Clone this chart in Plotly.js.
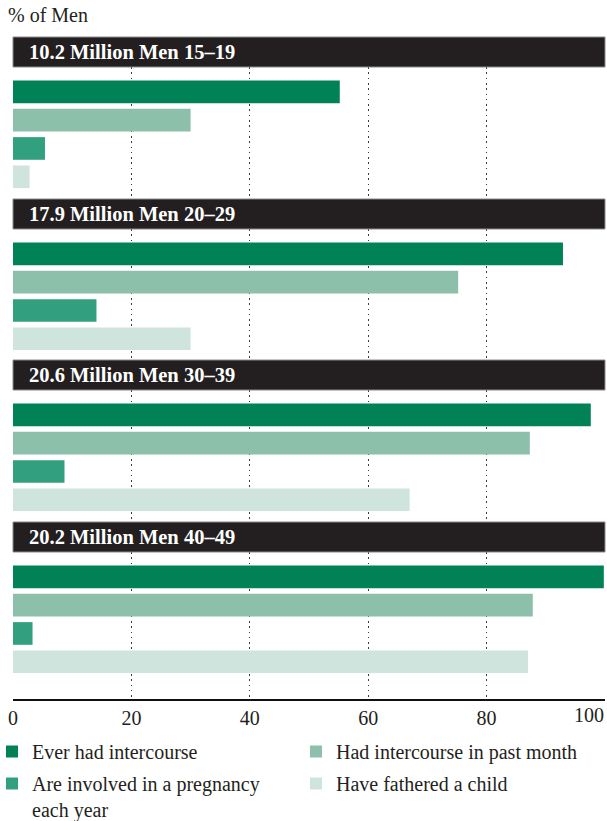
<!DOCTYPE html>
<html>
<head>
<meta charset="utf-8">
<script src="https://cdn.plot.ly/plotly-3.0.1.min.js"></script>
<style>html,body{margin:0;padding:0;background:#fff;}#chart{width:607px;height:821px;}</style>
</head>
<body>
<div id="chart"></div>
<script>
// ---- data ----
const series = ['Ever had intercourse', 'Had intercourse in past month', 'Are involved in a pregnancy each year', 'Have fathered a child'];
const legendNames = ['Ever had intercourse', 'Had intercourse in past month', 'Are involved in a pregnancy<br>each year', 'Have fathered a child'];
const panels = ['10.2 Million Men 15–19', '17.9 Million Men 20–29', '20.6 Million Men 30–39', '20.2 Million Men 40–49'];
const everHad = [55.2, 92.9, 97.6, 99.8];
const pastMonth = [30.0, 75.2, 87.3, 87.8];
const pregnancy = [5.4, 14.1, 8.7, 3.3];
const fathered = [2.8, 30.0, 67.0, 87.0];
const xTicks = [0, 20, 40, 60, 80, 100];
const xTickText = ['0', '20', '40', '60', '80', '100'];
const yTitle = '% of Men';

// ---- styles ----
const colors = ['#008256', '#8cc0aa', '#32a07e', '#cfe4dc'];
const values = [everHad, pastMonth, pregnancy, fathered];
const FONT = '"Liberation Serif", "Times New Roman", serif';
const W = 607, H = 821;
const MT = 37, MB = 122, ML = 13, MR = 2;
const plotBottom = H - MB; // 699
const plotH = H - MT - MB;
const plotW = W - ML - MR;
const py = p => (plotBottom - p) / plotH;
const px = p => (p - ML) / plotW;
const headerTops = [37, 199, 360, 522];
const headerH = 30;
const areaBottoms = [199, 360, 522, 699];
const pitch = 28.33, firstC = 24.8;
// legend placement (pixels): [x, top]
const legendPos = [[-8, 732], [296, 732], [-8, 764], [296, 764]];
const legendKeys = ['legend', 'legend2', 'legend3', 'legend4'];

const traces = [];
const layout = {
  width: W, height: H,
  margin: {l: ML, r: MR, t: MT, b: MB, pad: 0, autoexpand: false},
  paper_bgcolor: '#fff', plot_bgcolor: 'rgba(0,0,0,0)',
  font: {family: FONT, size: 20, color: '#231f20'},
  barmode: 'overlay',
  title: {text: yTitle, x: 8 / W, xref: 'container', xanchor: 'left', y: 1 - 15 / H, yref: 'container', yanchor: 'middle', font: {family: FONT, size: 20, color: '#231f20'}},
  shapes: [], annotations: []
};
legendKeys.forEach((key, i) => {
  layout[key] = {orientation: 'v', xref: 'paper', yref: 'paper',
    x: px(legendPos[i][0]), y: py(legendPos[i][1]), xanchor: 'left', yanchor: 'top',
    bgcolor: 'rgba(0,0,0,0)', font: {family: FONT, size: 20, color: '#231f20'}, valign: 'top',
    maxheight: 300};
});

panels.forEach((title, k) => {
  const sfx = k === 0 ? '' : String(k + 1);
  const A = headerTops[k] + headerH, B = areaBottoms[k];
  series.forEach((s, i) => {
    traces.push({
      type: 'bar', orientation: 'h',
      x: [values[i][k]], y: [s],
      xaxis: 'x' + sfx, yaxis: 'y' + sfx,
      name: legendNames[i],
      legend: legendKeys[i],
      legendgroup: s,
      showlegend: k === 0,
      width: 0.8,
      marker: {color: colors[i], line: {width: 0}},
      hoverinfo: 'x+name'
    });
  });
  const last = k === panels.length - 1;
  layout['xaxis' + sfx] = {
    domain: [0, 1], anchor: 'y' + sfx, range: [0, 100], fixedrange: true, automargin: false,
    showgrid: true, gridcolor: '#3a3a3a', gridwidth: 1, griddash: '1.6px,3.7px',
    zeroline: false, ticks: '',
    tickvals: xTicks, ticktext: xTickText.map((t, j) => j === xTicks.length - 1 ? '' : t),
    showticklabels: last,
    tickfont: {family: FONT, size: 20, color: '#231f20'},
    showline: last, linecolor: '#111', linewidth: 1.5
  };
  layout['yaxis' + sfx] = {
    domain: [py(B), py(A)], anchor: 'x' + sfx, type: 'category', categoryarray: series,
    range: [(B - A - firstC) / pitch, -firstC / pitch], fixedrange: true, automargin: false,
    showticklabels: false, showgrid: false, zeroline: false, showline: false, ticks: ''
  };
  // header band
  layout.shapes.push({type: 'rect', xref: 'paper', yref: 'paper', x0: 0, x1: 1,
    y0: py(headerTops[k] + headerH), y1: py(headerTops[k]),
    fillcolor: '#231f20', line: {color: '#8a8a8a', width: 1}, layer: 'above'});
  layout.annotations.push({text: '<b>' + title + '</b>', xref: 'paper', yref: 'paper', x: 0, xshift: 14,
    y: py(headerTops[k] + headerH / 2), xanchor: 'left', yanchor: 'middle', showarrow: false,
    font: {family: FONT, size: 20.5, color: '#ffffff'}});
  if (last) {
    layout.annotations.push({text: xTickText[xTickText.length - 1], xref: 'x' + sfx, yref: 'paper',
      x: xTicks[xTicks.length - 1], y: 0, yshift: -16, xshift: 1, xanchor: 'right', yanchor: 'middle', showarrow: false,
      font: {family: FONT, size: 20, color: '#231f20'}});
  }
});

Plotly.newPlot('chart', traces, layout, {displayModeBar: false, staticPlot: true});
</script>
</body>
</html>
